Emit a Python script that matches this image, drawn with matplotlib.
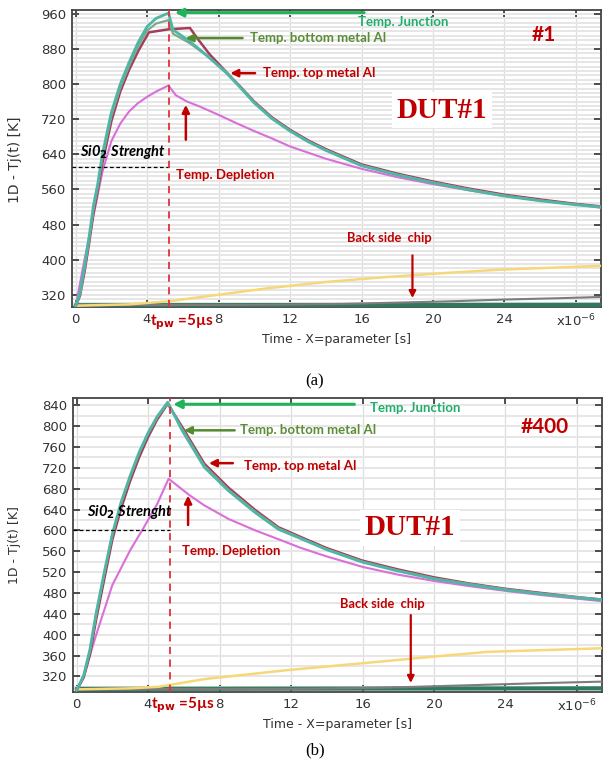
import matplotlib
matplotlib.use("Agg")
import matplotlib.pyplot as plt
from matplotlib.ticker import MultipleLocator
import matplotlib.transforms as mtransforms

# ---- panel (a): pulse #1, time in microseconds, temperature in K ----
A_JUNC_T = [0, 0.25, 0.5, 0.75, 1.0, 1.25, 1.5, 2.0, 2.5, 3.0, 3.5, 4.0, 4.5, 5.2, 5.45, 6.4, 7.3,
            8.4, 9.2, 10, 11, 12, 13, 14, 16, 18, 20, 22, 24, 26, 28, 29.5]
A_JUNC = [293, 325, 385, 450, 523, 575, 640, 735, 800, 850, 895, 931, 950, 962, 924, 897, 867,
          827, 793, 757, 721, 693, 669, 649, 614, 593, 575, 559, 545, 534, 525, 519]
A_BOT_AL = [293, 322, 380, 443, 515, 568, 632, 727, 792, 842, 886, 922, 938, 946, 915, 893, 866,
            828, 794, 758, 722, 694, 670, 650, 615, 594, 576, 560, 546, 535, 526, 520]
A_TOP_T = [0, 0.25, 0.5, 0.75, 1.0, 1.25, 1.5, 2.0, 2.5, 3.0, 3.5, 4.1, 5.2, 6.4, 6.8, 7.5, 8.4,
           9.2, 10, 11, 12, 13, 14, 16, 18, 20, 22, 24, 26, 28, 29.5]
A_TOP_AL = [293, 318, 372, 435, 505, 560, 620, 715, 783, 833, 875, 918, 925, 928, 905, 868, 829,
            795, 760, 724, 696, 672, 652, 617, 596, 578, 562, 548, 537, 527, 521]
A_DEPL_T = [0, 0.5, 1.0, 1.5, 2.0, 2.5, 3.0, 3.5, 4.0, 4.5, 5.2, 5.6, 6.2, 7, 8, 9, 10, 11, 12,
            14, 16, 18, 20, 22, 24, 26, 28, 29.5]
A_DEPL = [293, 400, 500, 600, 670, 710, 738, 757, 771, 783, 797, 775, 761, 748, 730, 711, 693,
          676, 658, 630, 607, 588, 572, 558, 545, 535, 526, 518]
A_BACK_T = [0, 3, 5.2, 8, 10.8, 14, 17.3, 20.5, 23.7, 29.5]
A_BACK = [295, 298, 305, 320, 335, 349, 360, 369, 377, 386]
A_GRAY_T = [0, 10, 15, 18, 21, 24, 27, 29.5]
A_GRAY = [296, 297, 299, 302, 305, 309, 312, 315]
A_SUB_T = [0, 29.5]
A_SUB = [296, 297]
A_SIO2 = 610
A_YTICKS = [320, 400, 480, 560, 640, 720, 800, 880, 960]

# ---- panel (b): pulse #400 ----
B_T = [0, 0.4, 0.75, 1.1, 1.6, 2.0, 2.5, 3.0, 3.5, 4.0, 4.5, 5.1, 5.9, 7.15, 8.5, 10, 11.3, 12.5,
       14, 16, 18, 20, 22, 24, 26, 28, 29.5]
B_JUNC = [293, 322, 372, 442, 528, 593, 655, 705, 750, 787, 818, 846, 792, 721, 676, 634, 602,
          585, 563, 539, 522, 507, 496, 486, 478, 471, 466]
B_BOT_AL = [293, 321, 370, 440, 526, 591, 653, 703, 748, 785, 816, 844, 795, 724, 678, 636, 604,
            586, 564, 540, 523, 508, 497, 487, 479, 472, 467]
B_TOP_AL = [293, 318, 362, 430, 515, 582, 643, 695, 740, 779, 812, 843, 799, 728, 682, 639, 606,
            588, 566, 542, 525, 510, 498, 488, 480, 472, 467]
B_DEPL_T = [0, 0.4, 1.1, 2.0, 3.0, 3.7, 4.5, 5.15, 6.3, 7.1, 8.5, 10, 11.3, 12.5, 14, 16, 18,
            20, 22, 24, 26, 28, 29.5]
B_DEPL = [293, 322, 400, 495, 562, 602, 650, 699, 668, 649, 622, 600, 583, 567, 550, 530, 515,
          503, 493, 484, 476, 469, 464]
B_BACK_T = [0, 3, 4.6, 7.2, 11.8, 16.9, 20, 23, 29.5]
B_BACK = [295, 297, 300, 315, 332, 348, 358, 367, 374]
B_GRAY_T = [0, 12, 17, 20, 23, 26, 29.5]
B_GRAY = [296, 296, 298, 301, 304, 307, 310]
B_SUB_T = [0, 29.5]
B_SUB = [296, 297]
B_SIO2 = 600
B_YTICKS = [320, 360, 400, 440, 480, 520, 560, 600, 640, 680, 720, 760, 800, 840]

T_PW = 5.2
X_TICKS = [0, 4, 8, 12, 16, 20, 24, 28]
X_LABELS = ["0", "4", "8", "12", "16", "20", "24", "x10$^{-6}$"]

C_JUNC = "#4fb6a6"
C_BOT = "#7daa86"
C_TOP = "#a33d5c"
C_DEPL = "#d96fd9"
C_BACK = "#f6d878"
C_GRAY = "#7d7d7d"
C_SUB = "#2f7a5c"
RED = "#c00000"
ANN = ["Lato", "DejaVu Sans"]

W, H = 604, 765
fig = plt.figure(figsize=(W / 100, H / 100), dpi=100)


def box(left, top, right, bottom):
    return [left / W, 1 - bottom / H, (right - left) / W, (bottom - top) / H]


def panel(ax, series, sio2, yticks, ylim, minor, ann, tag, tpw_y):
    ax.set_xlim(-0.2, 29.4)
    ax.set_ylim(*ylim)
    ax.yaxis.set_minor_locator(MultipleLocator(minor))
    ax.grid(True, which="minor", axis="y", color="#e6e6e6", lw=1.4, zorder=0)
    ax.grid(True, which="major", axis="y", color="#e6e6e6", lw=1.4, zorder=0)
    ax.grid(True, which="major", axis="x", color="#dddddd", lw=0.9, zorder=0)
    for t, v, c, lw in series:
        ax.plot(t, v, color=c, lw=lw, solid_capstyle="round", solid_joinstyle="round", zorder=3)
    ax.plot([-0.2, T_PW], [sio2, sio2], color="black", ls=(0, (3, 2)), lw=0.9, zorder=4)
    ax.axvline(T_PW, color="#e0303a", ls=(0, (4, 3)), lw=1.3, zorder=4)

    ax.set_xticks(X_TICKS)
    ax.set_xticklabels(X_LABELS)
    ax.set_yticks(yticks)
    ax.tick_params(which="major", direction="in", length=5, width=1.2, color="#333333",
                   top=True, right=True, labelsize=9.5, labelcolor="#333333", pad=4)
    ax.tick_params(which="minor", left=False, right=False)
    for s in ax.spines.values():
        s.set_color("#444444")
        s.set_linewidth(1.3)
    ax.set_xlabel("Time - X=parameter [s]", fontsize=9, color="#333333", labelpad=3)

    # annotations
    jx0, jx1, jy, jtx, jty = ann["junc"]
    ax.annotate("", xy=(jx1, jy), xytext=(jx0, jy),
                arrowprops=dict(arrowstyle="-|>", color="#1fb45a", lw=2.2, mutation_scale=12), zorder=6)
    ax.text(jtx, jty, "Temp. Junction", color="#1fae6a", fontsize=9.5, fontweight="bold",
            family=ANN, va="center", ha="left", zorder=6)
    bx0, bx1, by, btx = ann["bot"]
    ax.annotate("", xy=(bx1, by), xytext=(bx0, by),
                arrowprops=dict(arrowstyle="-|>", color="#548b2e", lw=1.8, mutation_scale=11), zorder=6)
    ax.text(btx, by, "Temp. bottom metal Al", color="#5a8d36", fontsize=9.5, fontweight="bold",
            family=ANN, va="center", ha="left", zorder=6)
    tx0, tx1, ty, ttx, tty = ann["top"]
    ax.annotate("", xy=(tx1, ty), xytext=(tx0, ty),
                arrowprops=dict(arrowstyle="-|>", color=RED, lw=1.8, mutation_scale=11), zorder=6)
    ax.text(ttx, tty, "Temp. top metal Al", color=RED, fontsize=9.5, fontweight="bold",
            family=ANN, va="center", ha="left", zorder=6)
    dx, dy0, dy1, dtx, dty = ann["depl"]
    ax.annotate("", xy=(dx, dy1), xytext=(dx, dy0),
                arrowprops=dict(arrowstyle="-|>", color=RED, lw=1.8, mutation_scale=11), zorder=6)
    ax.text(dtx, dty, "Temp. Depletion", color=RED, fontsize=9.5, fontweight="bold",
            family=ANN, va="center", ha="left", zorder=6)
    sx, sy = ann["sio2"]
    ax.text(sx, sy, "Si0$_\\mathbf{2}$ Strenght", color="black", fontsize=10.5, fontweight="bold",
            style="italic", family=ANN, va="center", ha="left", zorder=6)
    kx, ky = ann["tag"]
    ax.text(kx, ky, tag, color=RED, fontsize=15, fontweight="bold", family=ANN,
            ha="center", va="center", zorder=6)
    ux, uy = ann["dut"]
    ax.text(ux, uy, "DUT#1", color=RED, fontsize=21, fontweight="bold", family="Liberation Serif",
            ha="center", va="center", zorder=6,
            bbox=dict(boxstyle="square,pad=0.15", fc="white", ec="none"))
    cx, cy, ax_x, ay0, ay1 = ann["back"]
    ax.text(cx, cy, "Back side  chip", color=RED, fontsize=9.3, fontweight="bold", family=ANN,
            ha="center", va="center", zorder=6)
    ax.annotate("", xy=(ax_x, ay1), xytext=(ax_x, ay0),
                arrowprops=dict(arrowstyle="-|>", color=RED, lw=1.6, mutation_scale=10), zorder=6)
    tr = mtransforms.blended_transform_factory(ax.transData, ax.transAxes)
    ax.text(4.15, tpw_y, "t$_{\\mathbf{pw}}$ =5\u00b5s", transform=tr, color=RED, fontsize=11,
            fontweight="bold", family=ANN, ha="left", va="center", zorder=6)


ax1 = fig.add_axes(box(72, 10, 601, 307))
panel(
    ax1,
    [(A_SUB_T, A_SUB, C_SUB, 3.0),
     (A_GRAY_T, A_GRAY, C_GRAY, 1.5),
     (A_BACK_T, A_BACK, C_BACK, 1.8),
     (A_DEPL_T, A_DEPL, C_DEPL, 1.5),
     (A_TOP_T, A_TOP_AL, C_TOP, 1.8),
     (A_JUNC_T, A_BOT_AL, C_BOT, 1.6),
     (A_JUNC_T, A_JUNC, C_JUNC, 2.0)],
    A_SIO2, A_YTICKS, (292, 969), 10,
    dict(junc=(16.3, 5.4, 963, 15.8, 942),
         bot=(9.5, 6.0, 905, 9.75),
         top=(10.2, 8.5, 825, 10.5, 825),
         depl=(6.17, 667, 759, 5.6, 592),
         sio2=(0.25, 645),
         tag=(26.2, 912),
         dut=(20.5, 741),
         back=(17.55, 450, 18.85, 416, 306)),
    "#1", -0.05)

ax2 = fig.add_axes(box(73, 398, 602, 692))
panel(
    ax2,
    [(B_SUB_T, B_SUB, C_SUB, 3.0),
     (B_GRAY_T, B_GRAY, C_GRAY, 1.5),
     (B_BACK_T, B_BACK, C_BACK, 1.8),
     (B_DEPL_T, B_DEPL, C_DEPL, 1.5),
     (B_T, B_TOP_AL, C_TOP, 1.8),
     (B_T, B_BOT_AL, C_BOT, 1.6),
     (B_T, B_JUNC, C_JUNC, 2.0)],
    B_SIO2, B_YTICKS, (290, 854), 20,
    dict(junc=(15.7, 5.25, 842, 16.4, 834),
         bot=(9.0, 5.85, 792, 9.15),
         top=(8.9, 7.25, 729, 9.35, 724),
         depl=(6.24, 605, 672, 5.9, 560),
         sio2=(0.6, 636),
         tag=(26.2, 798),
         dut=(18.65, 605),
         back=(17.1, 459, 18.7, 443, 302)),
    "#400", -0.044)

fig.text(15 / W, 1 - 160 / H, "1D - Tj(t) [K]", rotation=90, fontsize=10, color="#333333",
         ha="center", va="center")
fig.text(15 / W, 1 - 545 / H, "1D - Tj(t) [K]", rotation=90, fontsize=9, color="#333333",
         ha="center", va="center")
fig.text(315 / W, 1 - 381 / H, "(a)", fontsize=12, family="Liberation Serif", ha="center", va="center")
fig.text(315 / W, 1 - 750 / H, "(b)", fontsize=12, family="Liberation Serif", ha="center", va="center")

fig.savefig("out.png", dpi=100)
